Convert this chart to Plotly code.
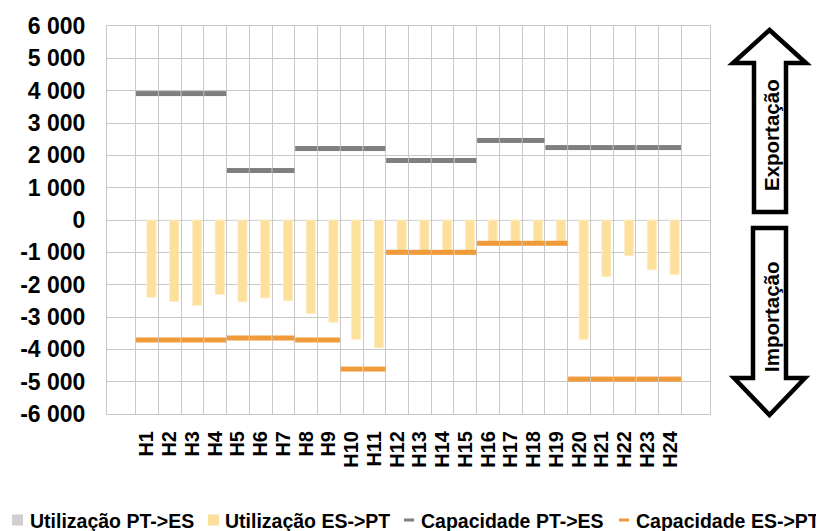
import plotly.graph_objects as go

hours = ["H%d" % i for i in range(1, 25)]

util_pt_es = [0] * 24
util_es_pt = [-2390, -2520, -2640, -2300, -2530, -2410, -2500, -2890, -3160, -3690, -3950,
              -980, -990, -990, -990, -700, -710, -710, -710,
              -3690, -1750, -1100, -1540, -1690]
cap_pt_es = [3910, 3910, 3910, 3910, 1530, 1530, 1530, 2210, 2210, 2210, 2210,
             1840, 1840, 1840, 1840, 2460, 2460, 2460, 2240, 2240, 2240, 2240, 2240, 2240]
cap_es_pt = [-3710, -3710, -3710, -3710, -3650, -3650, -3650, -3710, -3710, -4610, -4610,
             -1000, -1000, -1000, -1000, -720, -720, -720, -720,
             -4920, -4920, -4920, -4920, -4920]

y_tickvals = [6000, 5000, 4000, 3000, 2000, 1000, 0, -1000, -2000, -3000, -4000, -5000, -6000]
y_ticktext = ["6 000", "5 000", "4 000", "3 000", "2 000", "1 000", "0",
              "-1 000", "-2 000", "-3 000", "-4 000", "-5 000", "-6 000"]

names = ["Utilização PT->ES", "Utilização ES->PT", "Capacidade PT->ES", "Capacidade ES->PT"]
colors = ["#D0CECE", "#FCE09C", "#7F7F7F", "#F09A3A"]

FONT = "Liberation Sans, Arial, sans-serif"
# the page places the figure 8px from the window's top-left corner
OFF = 8
W, H = 824 - OFF, 531 - OFF
PL, PR, PT, PB = 107, 710, 26, 414          # plot area in window pixels
L, R, T, B = PL - OFF, W - (PR - OFF), PT - OFF, H - (PB - OFF)
PW, PH = PR - PL, PB - PT


def px(x):
    return (x - PL) / PW


def py(y):
    return (PB - y) / PH


fig = go.Figure()
fig.add_trace(go.Bar(x=hours, y=util_pt_es, name=names[0], showlegend=False,
                     marker=dict(color=colors[0])))
fig.add_trace(go.Bar(x=hours, y=util_es_pt, name=names[1], showlegend=False,
                     marker=dict(color=colors[1], line=dict(color="#FDEDC6", width=1))))
fig.add_trace(go.Scatter(x=hours, y=cap_pt_es, mode="markers", name=names[2], showlegend=False,
                         marker=dict(symbol="line-ew-open", size=15.7, color=colors[2],
                                     line=dict(color=colors[2], width=5))))
fig.add_trace(go.Scatter(x=hours, y=cap_es_pt, mode="markers", name=names[3], showlegend=False,
                         marker=dict(symbol="line-ew-open", size=15.7, color=colors[3],
                                     line=dict(color=colors[3], width=5))))


def poly(pts):
    return "M " + " L ".join("%f,%f" % (px(a), py(b)) for a, b in pts) + " Z"


up_arrow = [(769.5, 30), (806, 63), (786, 63), (786, 212), (754, 212), (754, 63), (733, 63)]
down_arrow = [(753, 228), (786, 228), (786, 378), (805, 378), (769.5, 415), (734, 378), (753, 378)]

shapes = []
for pts in (up_arrow, down_arrow):
    shapes.append(dict(type="path", xref="paper", yref="paper", path=poly(pts),
                       fillcolor="white", line=dict(color="black", width=4.5), layer="above"))

annotations = [
    dict(text="Exportação", x=px(771), y=py(135), xref="paper", yref="paper", showarrow=False,
         xanchor="center", yanchor="middle",
         textangle=-90, font=dict(family=FONT, size=20.5, color="black", weight="bold")),
    dict(text="Importação", x=px(771), y=py(317), xref="paper", yref="paper", showarrow=False,
         xanchor="center", yanchor="middle",
         textangle=-90, font=dict(family=FONT, size=20.5, color="black", weight="bold")),
]

# legend (drawn manually to match the compact original layout)
LEG_Y = 520
leg_sym_x = [12, 208, 404, 619]
leg_txt_x = [28, 223, 419, 634]
for i in range(4):
    x0 = leg_sym_x[i]
    if i < 2:
        shapes.append(dict(type="rect", xref="paper", yref="paper",
                           x0=px(x0), x1=px(x0 + 11), y0=py(LEG_Y - 5.5), y1=py(LEG_Y + 5.5),
                           fillcolor=colors[i], line=dict(width=0)))
    else:
        shapes.append(dict(type="line", xref="paper", yref="paper",
                           x0=px(x0), x1=px(x0 + 10), y0=py(LEG_Y), y1=py(LEG_Y),
                           line=dict(color=colors[i], width=3)))
    annotations.append(dict(text=names[i], x=px(leg_txt_x[i]), y=py(LEG_Y + 1), xref="paper",
                            yref="paper", xanchor="left", yanchor="middle", showarrow=False,
                            font=dict(family=FONT, size=19.5, color="black", weight="bold")))

fig.update_layout(
    width=W, height=H,
    margin=dict(l=L, r=R, t=T, b=B, pad=0, autoexpand=False),
    paper_bgcolor="white", plot_bgcolor="white",
    barmode="group", bargap=0.2, bargroupgap=0,
    font=dict(family=FONT, color="black"),
    shapes=shapes, annotations=annotations,
    showlegend=False,
    xaxis=dict(type="category", tickson="boundaries", showgrid=True, gridcolor="#C8C8C8",
               gridwidth=1, tickangle=-90, ticks="", ticklabelstandoff=8, dtick=1,
               automargin=False,
               tickfont=dict(family=FONT, size=20, color="black", weight="bold"),
               showline=True, linecolor="#C8C8C8", mirror=True, zeroline=False),
    yaxis=dict(range=[-6000, 6000], tickvals=y_tickvals, ticktext=y_ticktext,
               showgrid=True, gridcolor="#C8C8C8", gridwidth=1, zeroline=False,
               ticks="", ticklabelstandoff=16, automargin=False,
               tickfont=dict(family=FONT, size=23, color="black", weight="bold"),
               showline=True, linecolor="#C8C8C8", mirror=True),
)

fig.write_html("out.html")
